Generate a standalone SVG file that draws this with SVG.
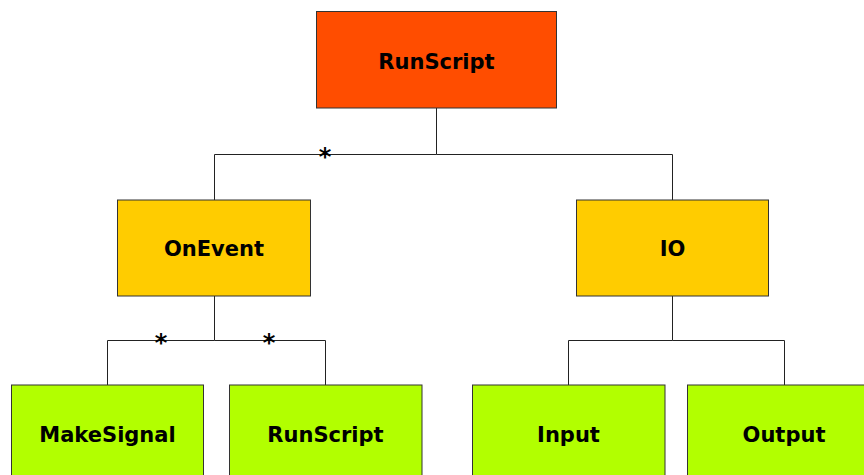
<svg xmlns="http://www.w3.org/2000/svg" width="864" height="475" viewBox="0 0 864 475">
<style>
.box{stroke:#333;stroke-width:1}
.root{fill:#FF4D00}
.mid{fill:#FFCC00}
.leaf{fill:#B2FF00}
.lbl{font-family:"DejaVu Sans",Verdana,sans-serif;font-weight:bold;font-size:21px;fill:#000;text-anchor:middle}
.star{font-family:"DejaVu Sans",Verdana,sans-serif;font-weight:bold;font-size:24px;fill:#000;text-anchor:middle}
.conn{fill:none;stroke:#222;stroke-width:1}
</style>
<rect width="864" height="475" fill="#fff"/>
<g id="connectors">
<polyline class="conn" points="436.5,108 436.5,154.5 214.5,154.5 214.5,200"/>
<polyline class="conn" points="436.5,154.5 672.5,154.5 672.5,200"/>
<polyline class="conn" points="214.5,296 214.5,340.5 107.5,340.5 107.5,385"/>
<polyline class="conn" points="214.5,340.5 325.5,340.5 325.5,385"/>
<polyline class="conn" points="672.5,296 672.5,340.5 568.5,340.5 568.5,385"/>
<polyline class="conn" points="672.5,340.5 784.5,340.5 784.5,385"/>
<text class="star" x="325" y="165">*</text>
<text class="star" x="161" y="351">*</text>
<text class="star" x="269" y="351">*</text>
</g>
<g id="node-runscript-root">
<rect class="box root" x="316.5" y="11.5" width="240" height="96.5"/>
<text class="lbl" x="436.5" y="69">RunScript</text>
</g>
<g id="node-onevent">
<rect class="box mid" x="117.5" y="200" width="193" height="96"/>
<text class="lbl" x="214" y="256">OnEvent</text>
</g>
<g id="node-io">
<rect class="box mid" x="576.5" y="200" width="192" height="96"/>
<text class="lbl" x="672.5" y="256">IO</text>
</g>
<g id="node-makesignal">
<rect class="box leaf" x="11.5" y="385" width="192" height="96"/>
<text class="lbl" x="107.5" y="442">MakeSignal</text>
</g>
<g id="node-runscript-child">
<rect class="box leaf" x="229.5" y="385" width="192.5" height="96"/>
<text class="lbl" x="325.5" y="442">RunScript</text>
</g>
<g id="node-input">
<rect class="box leaf" x="472.5" y="385" width="192.5" height="96"/>
<text class="lbl" x="568.5" y="442">Input</text>
</g>
<g id="node-output">
<rect class="box leaf" x="687.5" y="385" width="192" height="96"/>
<text class="lbl" x="784" y="442">Output</text>
</g>
</svg>
